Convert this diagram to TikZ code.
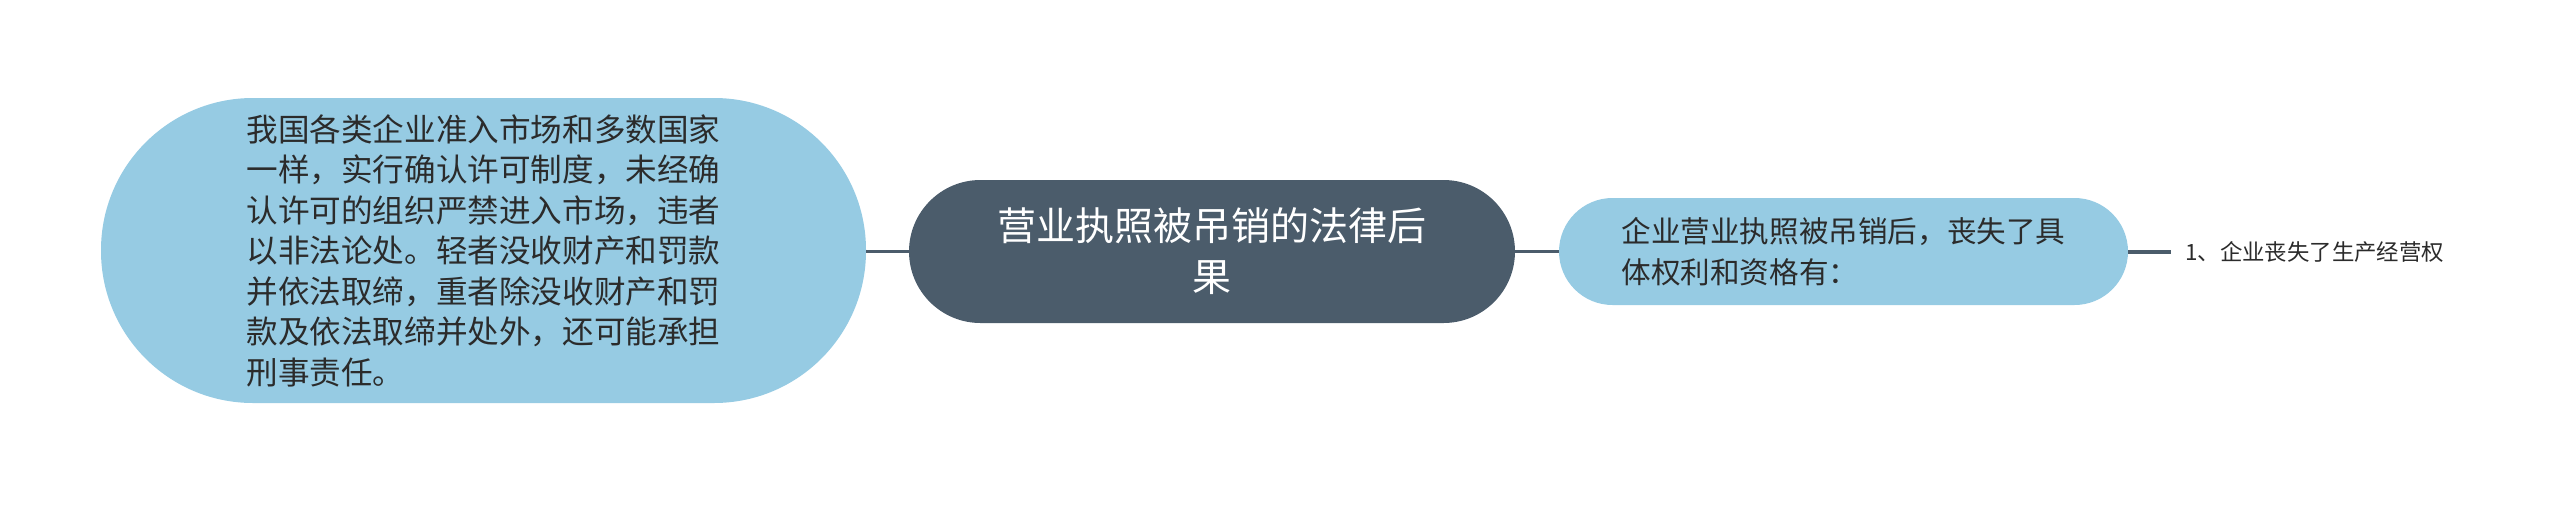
\documentclass[tikz,border=0pt]{standalone}
\usepackage{fontspec}
\setmainfont{Noto Sans CJK SC}
\definecolor{slate}{HTML}{4B5C6B}
\definecolor{skyblue}{HTML}{96CBE3}
\definecolor{inkgray}{HTML}{2B2B2B}

\tikzset{
  topic/.style={fill=slate, text=white, rounded corners=71.5pt, minimum width=606pt,
    minimum height=143pt, align=center, font=\fontsize{39}{51}\selectfont, inner sep=0pt},
  bigbubble/.style={fill=skyblue, text=inkgray, rounded corners=152pt, minimum width=765pt,
    minimum height=305pt, align=left, font=\fontsize{31.6}{40.5}\selectfont, inner sep=0pt},
  subbubble/.style={fill=skyblue, text=inkgray, rounded corners=53.5pt, minimum width=569pt,
    minimum height=107pt, align=left, font=\fontsize{29.6}{41}\selectfont, inner sep=0pt},
  leaf/.style={text=inkgray, anchor=west, font=\fontsize{22.4}{26}\selectfont, inner sep=0pt},
  link/.style={draw=slate, line width=3.5pt}
}

\begin{document}
\begin{tikzpicture}[x=1pt, y=-1pt]

\useasboundingbox (0,0) rectangle (2560,504);

% --- nodi ---
\node[topic] (root) at (1212,251.5) {营业执照被吊销的法律后\\果};
\node[bigbubble] (rule) at (483.5,250.5) {我国各类企业准入市场和多数国家\\一样，实行确认许可制度，未经确\\认许可的组织严禁进入市场，违者\\以非法论处。轻者没收财产和罚款\\并依法取缔，重者除没收财产和罚\\款及依法取缔并处外，还可能承担\\刑事责任。};
\node[subbubble] (loss) at (1843.5,251.5) {企业营业执照被吊销后，丧失了具\\体权利和资格有：};
\node[leaf] (right1) at (2185,252) {1、企业丧失了生产经营权};
\coordinate (tip) at (2171,252);

% --- collegamenti ---
\draw[link] (rule.east |- root) -- (root.west);
\draw[link] (root.east) -- (loss.west);
\draw[link] (loss.east |- tip) -- (tip);

\end{tikzpicture}
\end{document}
